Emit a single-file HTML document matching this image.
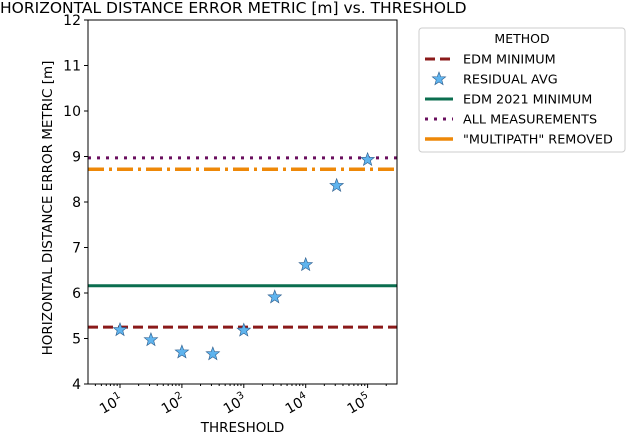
<!DOCTYPE html>
<html><head><meta charset="utf-8"><style>
body{margin:0;background:#fff;}
svg text{font-family:"DejaVu Sans","Liberation Sans",sans-serif;fill:#000;}
</style></head><body>
<svg width="626" height="434" viewBox="0 0 626 434">
<g id="plot"></g>
</svg>
<script>
const thresholds=[10,31.6,100,316,1000,3162,10000,31623,100000];
const residualAvg=[5.19,4.97,4.70,4.66,5.18,5.91,6.62,8.36,8.93];
const hlineNames=["EDM MINIMUM","EDM 2021 MINIMUM","ALL MEASUREMENTS","\"MULTIPATH\" REMOVED"];
const hlineValues=[5.25,6.16,8.97,8.72];
const yTicks=[4,5,6,7,8,9,10,11,12];
const xTickExps=[1,2,3,4,5];

const L=88,R=397,T=20,B=384;
const xMin=0.483,xMax=5.475,yMin=4,yMax=12;
const X=v=>L+(Math.log10(v)-xMin)/(xMax-xMin)*(R-L);
const Y=v=>B-(v-yMin)/(yMax-yMin)*(B-T);
const NS="http://www.w3.org/2000/svg";
const svg=document.querySelector('svg');
function mk(tag,attrs,parent){const e=document.createElementNS(NS,tag);for(const k in attrs)e.setAttribute(k,attrs[k]);(parent||svg).appendChild(e);return e;}
const styles=[
 {stroke:"#8b1a1a",dash:"10,5",w:3},
 {stroke:"#0b6e4f",dash:"",w:3},
 {stroke:"#6a0f5e",dash:"3,6",w:3},
 {stroke:"#ee8808",dash:"16,5,3,5",w:3.5}
];
let t=mk('text',{x:0,y:13,'font-size':'15.5'});t.textContent="HORIZONTAL DISTANCE ERROR METRIC [m] vs. THRESHOLD";


hlineValues.forEach((v,i)=>{const s=styles[i];
 const l=mk('line',{x1:L,x2:R,y1:Y(v),y2:Y(v),stroke:s.stroke,'stroke-width':s.w,'stroke-dasharray':s.dash});
 
 
});
function starPath(cx,cy,r){let p="";for(let k=0;k<10;k++){const a=-Math.PI/2+k*Math.PI/5;const rr=k%2?r*0.42:r;p+=(k?"L":"M")+(cx+rr*Math.cos(a)).toFixed(2)+","+(cy+rr*Math.sin(a)).toFixed(2);}return p+"Z";}
thresholds.forEach((th,i)=>{
 const s=mk('path',{d:starPath(X(th),Y(residualAvg[i]),7),fill:"#5fb4ee",stroke:"#2a5a8a",'stroke-width':0.6});
 
 
});
const f=mk('rect',{x:L,y:T,width:R-L,height:B-T,fill:"none",stroke:"#000",'stroke-width':1});


yTicks.forEach(v=>{mk('line',{x1:L-4,x2:L,y1:Y(v),y2:Y(v),stroke:"#000"});
 const tx=mk('text',{x:L-7,y:Y(v)+5,'font-size':'14','text-anchor':'end'});tx.textContent=v;
 
 
});
for(let e=0;e<=5;e++){for(let m=1;m<10;m++){const v=m*Math.pow(10,e);const lv=Math.log10(v);if(lv<xMin||lv>xMax)continue;
 mk('line',{x1:X(v),x2:X(v),y1:B,y2:B+(m==1?4:2),stroke:"#000"});}}
xTickExps.forEach(e=>{const x=X(Math.pow(10,e));
 const g=mk('text',{x:x+4,y:B+18,'font-size':'14','text-anchor':'end',transform:`rotate(-30 ${x+4} ${B+18})`});
 g.innerHTML='10<tspan dy="-6" font-size="10">'+e+'</tspan>';
 
 
});
let xl=mk('text',{x:(L+R)/2,y:432,'font-size':'13.5','text-anchor':'middle'});xl.textContent="THRESHOLD";


let yl=mk('text',{x:0,y:0,'font-size':'13.5','text-anchor':'middle',transform:`translate(52 ${(T+B)/2+6}) rotate(-90)`});yl.textContent="HORIZONTAL DISTANCE ERROR METRIC [m]";


const lg=mk('g',{});


mk('rect',{x:419,y:28,width:206,height:124,rx:3,fill:"#fff",stroke:"#ccc"},lg);
let lt=mk('text',{x:522,y:43,'font-size':'12.5','text-anchor':'middle'},lg);lt.textContent="METHOD";
const entries=[{n:hlineNames[0],s:0},{n:"RESIDUAL AVG",star:true},{n:hlineNames[1],s:1},{n:hlineNames[2],s:2},{n:hlineNames[3],s:3}];
entries.forEach((en,i)=>{const y=59+i*20;
 if(en.star){mk('path',{d:starPath(439,y,7),fill:"#5fb4ee",stroke:"#2a5a8a",'stroke-width':0.6},lg);}
 else{const s=styles[en.s];mk('line',{x1:425,x2:453,y1:y,y2:y,stroke:s.stroke,'stroke-width':s.w,'stroke-dasharray':en.s==3?"":s.dash},lg);}
 const tx=mk('text',{x:463,y:y+4.5,'font-size':'12.8'},lg);tx.textContent=en.n;
 
 
});
</script>
</body></html>
